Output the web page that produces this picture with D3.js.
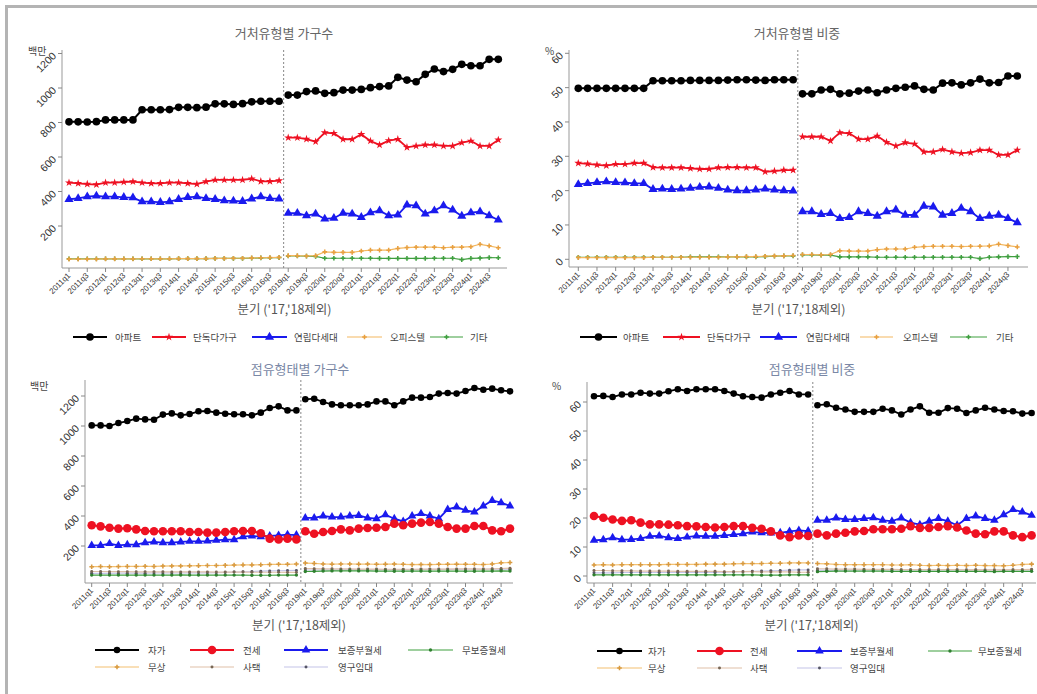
<!DOCTYPE html>
<meta charset="utf-8">
<script src="https://cdn.jsdelivr.net/npm/d3@7"></script>
<style>
body{margin:0;background:#fff;}
svg text{font-family:"Liberation Sans",Arial,sans-serif;}
svg text.kr{font-family:"Noto Sans CJK KR","Noto Sans",sans-serif;}
</style>
<svg id="vis" width="1037" height="694"></svg>

<script>
// quarters on the x axis (2017, 2018 left out)
const quarters = [
  "2011q1","2011q2","2011q3","2011q4","2012q1","2012q2","2012q3","2012q4",
  "2013q1","2013q2","2013q3","2013q4","2014q1","2014q2","2014q3","2014q4",
  "2015q1","2015q2","2015q3","2015q4","2016q1","2016q2","2016q3","2016q4",
  "2019q1","2019q2","2019q3","2019q4","2020q1","2020q2","2020q3","2020q4",
  "2021q1","2021q2","2021q3","2021q4","2022q1","2022q2","2022q3","2022q4",
  "2023q1","2023q2","2023q3","2023q4","2024q1","2024q2","2024q3","2024q4"]
const tickQuarters = [
  "2011q1","2011q3","2012q1","2012q3","2013q1","2013q3","2014q1","2014q3",
  "2015q1","2015q3","2016q1","2016q3","2019q1","2019q3","2020q1","2020q3",
  "2021q1","2021q3","2022q1","2022q3","2023q1","2023q3","2024q1","2024q3"]
const breakAfter = "2016q4"

// 거처유형별 가구수
const aptCount = [804,804,803,805,815,815,815,815,874,874,874,875,888,888,886,889,908,908,905,909,920,923,923,923,
  959,959,979,983,969,973,988,988,992,1002,1008,1012,1062,1046,1036,1079,1110,1095,1108,1137,1129,1129,1166,1166]
const houseCount = [451,447,443,440,451,451,455,457,451,447,447,451,451,447,443,457,467,467,467,467,474,459,459,463,
  712,712,704,689,741,737,703,703,731,693,670,695,703,656,664,670,670,664,664,683,693,664,664,699]
const villaCount = [355,360,370,374,370,370,366,364,341,341,337,341,355,366,370,360,355,347,345,343,358,370,360,358,
  274,274,260,270,241,245,274,270,250,277,289,260,264,322,318,270,289,318,293,258,277,283,260,235]
const officeCount = [8,8,8,8,9,9,9,9,10,10,10,10,11,11,11,11,12,12,13,13,15,16,17,18,
  28,28,26,28,50,47,47,47,55,60,60,60,70,75,77,77,77,74,77,77,80,94,85,74]
const etcCount = [10,10,10,10,10,10,10,10,10,10,10,10,11,11,11,11,12,12,12,12,14,15,16,17,
  26,26,25,24,13,13,13,13,13,13,12,12,12,12,12,12,13,13,13,5,12,14,17,16]

// 거처유형별 비중 (%)
const aptShare = [49.8,49.8,49.8,49.8,49.8,49.8,49.8,49.8,52.0,52.0,52.0,52.0,52.1,52.1,52.1,52.1,52.2,52.3,52.3,52.2,52.1,52.3,52.3,52.3,
  48.2,48.2,49.3,49.5,48.2,48.4,49.0,49.3,48.5,49.3,49.8,50.1,50.5,49.5,49.3,51.3,51.4,50.8,51.4,52.5,51.4,51.5,53.4,53.4]
const houseShare = [28.0,27.8,27.5,27.3,27.7,27.7,28.0,28.0,26.8,26.7,26.7,26.7,26.5,26.3,26.3,26.7,26.8,26.8,26.7,26.7,25.5,25.7,26.0,26.0,
  35.7,35.7,35.7,34.5,36.9,36.7,35.0,35.0,35.9,34.1,33.0,34.0,33.6,31.3,31.3,32.0,31.3,30.9,31.1,31.8,31.8,30.4,30.4,31.8]
const villaShare = [21.8,22.1,22.4,22.6,22.4,22.3,22.1,22.1,20.4,20.5,20.4,20.5,20.7,21.0,21.1,20.7,20.2,20.0,20.0,20.2,20.5,20.2,20.0,19.9,
  13.9,13.9,13.1,13.4,11.9,12.2,13.9,13.4,12.6,13.9,14.4,12.9,12.9,15.5,15.3,12.9,13.4,14.9,13.9,11.9,12.6,12.9,11.9,10.7]
const officeShare = [0.5,0.5,0.5,0.5,0.5,0.5,0.5,0.5,0.6,0.6,0.6,0.6,0.6,0.6,0.6,0.6,0.7,0.7,0.8,0.8,0.9,1.0,1.0,1.1,
  1.4,1.4,1.3,1.4,2.5,2.4,2.4,2.4,2.8,3.0,3.0,3.0,3.5,3.7,3.8,3.8,3.8,3.7,3.8,3.8,3.9,4.4,4.0,3.6]
const etcShare = [0.6,0.6,0.6,0.6,0.6,0.6,0.6,0.6,0.6,0.6,0.6,0.6,0.7,0.7,0.7,0.7,0.7,0.7,0.7,0.7,0.8,0.9,1.0,1.0,
  1.3,1.3,1.2,1.2,0.7,0.7,0.7,0.7,0.6,0.6,0.6,0.6,0.6,0.6,0.6,0.6,0.6,0.6,0.6,0.2,0.6,0.7,0.8,0.8]

// 점유형태별 가구수
const ownCount = [1004,1004,1000,1020,1033,1049,1044,1042,1076,1084,1071,1080,1098,1100,1089,1082,1078,1078,1071,1089,1120,1131,1104,1104,
  1178,1182,1160,1144,1138,1138,1138,1144,1164,1164,1138,1164,1189,1189,1193,1216,1220,1216,1233,1253,1242,1249,1238,1231]
const jeonseCount = [338,331,322,316,318,311,300,298,298,298,298,293,293,289,289,293,298,300,300,285,249,244,249,244,
  298,282,293,300,311,304,316,320,322,327,349,338,349,356,360,349,327,316,316,333,333,304,298,316]
const depositCount = [204,204,216,204,209,209,222,227,222,222,227,231,231,233,238,242,242,262,267,262,267,271,276,273,
  387,387,400,393,393,400,404,387,382,409,382,364,400,416,400,382,444,460,438,427,467,504,489,467]
const noDepositCount = [6,6,6,6,6,6,6,6,6,6,7,6,6,6,6,6,6,6,5,5,5,6,6,6,
  30,31,33,34,34,35,34,34,33,33,32,32,33,33,32,33,33,33,32,32,33,33,34,33]
const freeCount = [62,63,62,63,64,64,65,64,66,67,67,68,69,70,70,71,73,74,74,75,77,78,78,80,
  86,84,80,79,80,80,79,80,78,79,80,78,76,77,76,78,78,79,78,78,76,80,88,90]
const companyCount = [30,30,29,29,29,28,28,28,28,27,27,27,27,27,26,26,26,26,25,25,25,25,24,24,
  50,49,48,48,47,47,46,46,46,45,45,45,45,46,46,46,46,47,47,47,46,48,50,52]
const publicCount = [18,18,18,19,19,19,19,20,20,20,20,21,21,21,22,24,26,28,30,32,34,35,36,37,
  40,40,41,41,41,42,42,42,42,42,43,43,43,43,44,44,44,44,45,45,45,45,45,45]

// 점유형태별 비중 (%)
const ownShare = [62.0,62.1,61.7,62.6,62.6,63.2,62.9,62.9,63.7,64.4,63.8,64.4,64.4,64.4,63.8,62.9,62.0,61.7,61.5,62.6,63.2,63.8,62.6,62.6,
  58.9,59.2,58.0,57.4,56.6,56.6,56.6,57.7,57.1,55.7,57.4,58.5,56.3,56.3,57.9,57.7,56.2,57.1,58.0,57.4,56.9,56.8,56.0,56.2]
const jeonseShare = [20.7,20.1,19.5,19.0,19.2,18.4,17.8,17.8,17.7,17.5,17.2,17.1,16.9,16.7,16.9,17.2,17.2,16.6,16.3,15.4,14.0,13.4,14.0,13.8,
  14.6,14.0,14.6,14.9,15.4,15.5,16.1,16.1,16.1,16.3,17.2,16.6,16.6,16.9,17.2,16.7,15.7,14.6,14.4,15.4,15.4,14.0,13.4,14.0]
const depositShare = [12.3,12.5,13.2,12.5,12.6,12.9,13.7,13.8,13.2,12.9,13.4,13.8,13.7,13.7,14.0,14.3,14.6,15.2,14.9,14.8,14.9,15.4,15.7,15.5,
  19.2,19.2,20.0,19.5,19.5,19.8,20.1,19.2,18.9,20.0,18.4,17.7,18.9,19.8,18.9,17.5,19.8,20.7,19.8,19.2,21.1,22.9,22.1,20.9]
const noDepositShare = [0.4,0.4,0.4,0.4,0.4,0.4,0.4,0.4,0.4,0.4,0.4,0.4,0.4,0.4,0.4,0.4,0.4,0.4,0.3,0.3,0.3,0.4,0.4,0.4,
  1.5,1.6,1.7,1.7,1.7,1.7,1.7,1.7,1.6,1.6,1.6,1.6,1.6,1.6,1.6,1.6,1.6,1.6,1.6,1.5,1.6,1.6,1.6,1.6]
const freeShare = [3.8,3.9,3.8,3.9,3.9,3.9,3.9,3.9,4.0,4.0,4.0,4.0,4.1,4.1,4.1,4.2,4.3,4.3,4.3,4.4,4.4,4.5,4.5,4.5,
  4.3,4.2,4.0,3.9,3.9,3.9,3.9,3.9,3.8,3.8,3.9,3.7,3.6,3.7,3.6,3.7,3.6,3.7,3.6,3.6,3.5,3.7,4.0,4.1]
const companyShare = [1.9,1.9,1.8,1.8,1.8,1.7,1.7,1.7,1.7,1.6,1.6,1.6,1.6,1.6,1.5,1.5,1.5,1.5,1.4,1.4,1.4,1.4,1.3,1.3,
  2.5,2.5,2.4,2.4,2.4,2.3,2.3,2.3,2.3,2.2,2.2,2.2,2.2,2.2,2.2,2.2,2.1,2.2,2.1,2.1,2.1,2.2,2.2,2.3]
const publicShare = [1.1,1.1,1.1,1.2,1.2,1.2,1.2,1.2,1.2,1.2,1.2,1.2,1.2,1.2,1.3,1.4,1.5,1.6,1.7,1.8,1.9,2.0,2.1,2.1,
  2.0,2.0,2.0,2.1,2.1,2.1,2.1,2.1,2.1,2.1,2.1,2.1,2.1,2.1,2.1,2.1,2.1,2.1,2.1,2.1,2.0,2.1,2.1,2.1]

const dwellingNames = ["아파트","단독다가구","연립다세대","오피스텔","기타"]
const tenureNames = ["자가","전세","보증부월세","무보증월세","무상","사택","영구임대"]
const countTicks = [200,400,600,800,1000,1200]
const shareTicks = [0,10,20,30,40,50,60]
const xTitle = "분기 ('17,'18제외)"

// marker / line styles per series
const dwellingStyle = [
  {color:"#000000", sym:d3.symbolCircle, size:46, w:2, pt:"#000000"},
  {color:"#ee1122", sym:d3.symbolStar, size:20, w:1.8, pt:"#ee1122"},
  {color:"#1a1aee", sym:d3.symbolTriangle, size:36, w:1.8, pt:"#1a1aee"},
  {color:"#f4b860", sym:d3.symbolCross, size:12, w:1.2, pt:"#e8a040"},
  {color:"#3f9f3f", sym:d3.symbolCross, size:12, w:1.2, pt:"#3f9f3f"}
]
const tenureStyle = [
  {color:"#000000", sym:d3.symbolCircle, size:34, w:1.8, pt:"#000000"},
  {color:"#ee1122", sym:d3.symbolCircle, size:58, w:2, pt:"#ee1122"},
  {color:"#1a1aee", sym:d3.symbolTriangle, size:32, w:1.8, pt:"#1a1aee"},
  {color:"#3f9f3f", sym:d3.symbolCircle, size:9, w:1.2, pt:"#2f7f2f"},
  {color:"#f4c070", sym:d3.symbolCross, size:12, w:1.2, pt:"#d89a40"},
  {color:"#e0c0a8", sym:d3.symbolCircle, size:7, w:1.2, pt:"#776655"},
  {color:"#c4c4e8", sym:d3.symbolCircle, size:7, w:1.2, pt:"#555566"}
]

const panels = [
  {title:"거처유형별 가구수", tx:284, ty:38, tcol:"#666",
   unit:"백만", ux:28, uy:55,
   left:62, right:507, top:50, bottom:268, x0:69, x1:498.3,
   yDom:[0,1200], yRan:[260.5,53.5], ticks:countTicks, xTitleY:314,
   names:dwellingNames, values:[aptCount,houseCount,villaCount,officeCount,etcCount], style:dwellingStyle,
   legRows:[337], legCols:[[73,107,115],[152,186,193],[252,287,294],[347,382,390],[430,463,470]]},
  {title:"거처유형별 비중", tx:797, ty:38, tcol:"#666",
   unit:"%", ux:545, uy:55,
   left:569, right:1028, top:50, bottom:267, x0:578.3, x1:1017.3,
   yDom:[0,60], yRan:[259.3,53.3], ticks:shareTicks, xTitleY:314,
   names:dwellingNames, values:[aptShare,houseShare,villaShare,officeShare,etcShare], style:dwellingStyle,
   legRows:[337], legCols:[[580,617,623],[663,700,707],[760,797,806],[860,893,903],[950,987,996]]},
  {title:"점유형태별 가구수", tx:300, ty:374, tcol:"#7a88a6",
   unit:"백만", ux:30, uy:390,
   left:85, right:513, top:380, bottom:583, x0:91.7, x1:510,
   yDom:[0,1200], yRan:[576,396], ticks:countTicks, xTitleY:630,
   names:tenureNames, values:[ownCount,jeonseCount,depositCount,noDepositCount,freeCount,companyCount,publicCount], style:tenureStyle,
   legRows:[650,667], legCols:[[95,139,148],[190,234,243],[284,328,338],[408,453,462]]},
  {title:"점유형태별 비중", tx:812, ty:374, tcol:"#7a88a6",
   unit:"%", ux:552, uy:390,
   left:587, right:1036, top:382, bottom:583, x0:594, x1:1031.6,
   yDom:[0,60], yRan:[576,402], ticks:shareTicks, xTitleY:630,
   names:tenureNames, values:[ownShare,jeonseShare,depositShare,noDepositShare,freeShare,companyShare,publicShare], style:tenureStyle,
   legRows:[651,668], legCols:[[597,642,648],[697,742,750],[797,842,850],[928,972,978]]}
]

const svg = d3.select("#vis")

// frame around the whole picture
svg.append("rect")
  .attr("x", 6.5).attr("y", 6.5)
  .attr("width", 1100).attr("height", 800)
  .attr("fill", "none").attr("stroke", "#b4b4b4").attr("stroke-width", 3)

function drawPanel(p) {
  const g = svg.append("g")
  const x = d3.scaleLinear().domain([0, quarters.length - 1]).range([p.x0, p.x1])
  const y = d3.scaleLinear().domain(p.yDom).range(p.yRan)
  const cut = quarters.indexOf(breakAfter)

  // axes
  g.append("line").attr("x1", p.left).attr("x2", p.left).attr("y1", p.top).attr("y2", p.bottom)
    .attr("stroke", "#999")
  g.append("line").attr("x1", p.left).attr("x2", p.right).attr("y1", p.bottom).attr("y2", p.bottom)
    .attr("stroke", "#999")

  g.selectAll(".yt").data(p.ticks).enter().append("line")
    .attr("x1", p.left - 4).attr("x2", p.left)
    .attr("y1", d => y(d)).attr("y2", d => y(d))
    .attr("stroke", "#888")
  g.selectAll(".yl").data(p.ticks).enter().append("text")
    .attr("transform", d => `translate(${p.left - 5},${y(d) + 3}) rotate(-45)`)
    .attr("text-anchor", "end")
    .attr("font-size", 10.5).attr("fill", "#333")
    .text(d => d)

  g.selectAll(".xt").data(tickQuarters).enter().append("line")
    .attr("x1", d => x(quarters.indexOf(d))).attr("x2", d => x(quarters.indexOf(d)))
    .attr("y1", p.bottom).attr("y2", p.bottom + 4)
    .attr("stroke", "#888")
  g.selectAll(".xl").data(tickQuarters).enter().append("text")
    .attr("transform", d => `translate(${x(quarters.indexOf(d)) + 2},${p.bottom + 8}) rotate(-45)`)
    .attr("text-anchor", "end")
    .attr("font-size", 8).attr("fill", "#333")
    .text(d => d)

  // gap marker between 2016 and 2019
  g.append("line")
    .attr("x1", x(cut + 0.5)).attr("x2", x(cut + 0.5))
    .attr("y1", p.top).attr("y2", p.bottom)
    .attr("stroke", "#888").attr("stroke-dasharray", "2,2")

  // titles
  g.append("text").attr("class", "kr").attr("x", p.tx).attr("y", p.ty)
    .attr("text-anchor", "middle").attr("font-size", 13).attr("fill", p.tcol)
    .text(p.title)
  g.append("text").attr("class", "kr").attr("x", p.ux).attr("y", p.uy)
    .attr("font-size", 10).attr("fill", "#444")
    .text(p.unit)
  g.append("text").attr("class", "kr").attr("x", (p.left + p.right) / 2).attr("y", p.xTitleY)
    .attr("text-anchor", "middle").attr("font-size", 12.5).attr("fill", "#555")
    .text(xTitle)

  const line = d3.line().x(d => x(d[0])).y(d => y(d[1]))

  // draw bottom series first so the big ones sit on top
  for (let k = p.values.length - 1; k >= 0; k--) {
    const vals = p.values[k], st = p.style[k]
    const pts = vals.map((v, i) => [i, v])
    const segs = [pts.slice(0, cut + 1), pts.slice(cut + 1)]
    segs.forEach(s => {
      g.append("path").datum(s).attr("d", line)
        .attr("fill", "none").attr("stroke", st.color).attr("stroke-width", st.w)
    })
    g.selectAll(null).data(pts).enter().append("path")
      .attr("transform", d => `translate(${x(d[0])},${y(d[1])})`)
      .attr("d", d3.symbol().type(st.sym).size(st.size))
      .attr("fill", st.pt)
  }

  // legend
  p.names.forEach((name, k) => {
    const row = Math.floor(k / p.legCols.length), col = k % p.legCols.length
    const c = p.legCols[col], ly = p.legRows[row], st = p.style[k]
    g.append("line").attr("x1", c[0]).attr("x2", c[1]).attr("y1", ly).attr("y2", ly)
      .attr("stroke", st.color).attr("stroke-width", st.w)
    g.append("path").attr("transform", `translate(${(c[0] + c[1]) / 2},${ly})`)
      .attr("d", d3.symbol().type(st.sym).size(st.size)).attr("fill", st.pt)
    g.append("text").attr("class", "kr").attr("x", c[2]).attr("y", ly + 3.5)
      .attr("font-size", 9.5).attr("fill", "#444")
      .text(name)
  })
}

panels.forEach(drawPanel)
</script>
